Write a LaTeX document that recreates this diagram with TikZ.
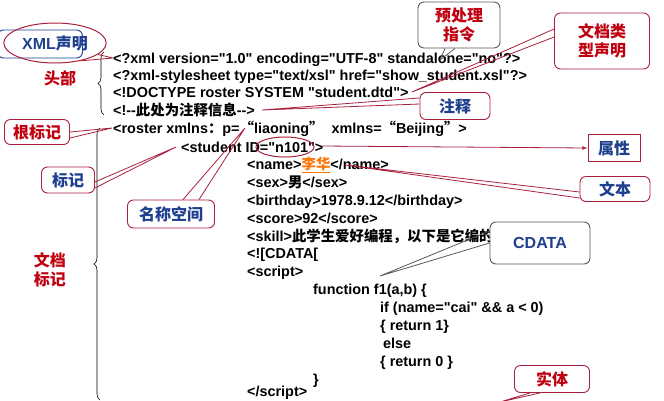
\documentclass[tikz,border=0pt]{standalone}
\usepackage{fontspec}
\setmainfont{Liberation Sans}[Ligatures=TeXOff]
\newfontfamily\cjk{Noto Sans CJK SC}
\newcommand{\zh}[1]{{\cjk #1}}
\usetikzlibrary{decorations.pathreplacing,shapes.geometric}
\definecolor{myred}{HTML}{C00010}
\definecolor{myblue}{HTML}{1F3F8F}
\definecolor{edge}{HTML}{A8203C}
\tikzset{
 code/.style={anchor=base west,inner sep=0pt,font=\fontsize{14.4}{16}\selectfont\bfseries},
 cbox/.style={draw=edge,line width=0.9pt,rounded corners=6pt,fill=white,align=center,inner sep=2pt,font=\fontsize{16}{19}\selectfont\cjk\bfseries},
 gbox/.style={cbox,draw=gray!70!black},
 ptr/.style={draw=edge,line width=0.8pt},
 gptr/.style={draw=gray!70!black,line width=0.8pt},
 brc/.style={draw=black,line width=0.6pt,decorate,decoration={brace,amplitude=6pt}},
 lbl/.style={text=myred,font=\fontsize{16}{19}\selectfont\cjk\bfseries,align=center}
}
\begin{document}
\begin{tikzpicture}[x=1pt,y=-1pt]
\useasboundingbox (0,0) rectangle (664,400);
% code
\node[code] (l1) at (113,63) {<?xml version="1.0" encoding="UTF-8" standalone="no"?>};
\node[code] (l2) at (113,80) {<?xml-stylesheet type="text/xsl" href="show\_student.xsl"?>};
\node[code] (l3) at (113,97) {<!DOCTYPE roster SYSTEM "student.dtd">};
\node[code] (l4) at (113,115) {<!--\zh{此处为注释信息}-->};
\node[code] (l5) at (113,133) {<roster xmlns\zh{：}p=\zh{“}liaoning\zh{”}\ \ xmlns=\zh{“}Beijing\zh{”}>};
\node[code] (l6) at (181,152) {<student ID="n101">};
\node[code] (l7) at (247,169) {<name>\textcolor{orange!90!red}{\underline{\zh{李华}}}</name>};
\node[code] (l8) at (247,187) {<sex>\zh{男}</sex>};
\node[code] (l9) at (247,205) {<birthday>1978.9.12</birthday>};
\node[code] (l10) at (247,223) {<score>92</score>};
\node[code] (l11) at (247,241) {<skill>\zh{此学生爱好编程，以下是它编的}};
\node[code] (l12) at (247,258) {<![CDATA[};
\node[code] (l13) at (247,276) {<script>};
\node[code] (l14) at (313,294) {function f1(a,b) \{};
\node[code] (l15) at (380,312) {if (name="cai" \&\& a < 0)};
\node[code] (l16) at (380,330) {\{ return 1\}};
\node[code] (l17) at (383,348) {else};
\node[code] (l18) at (380,366) {\{ return 0 \}};
\node[code] (l19) at (313,384) {\}};
\node[code] (l20) at (247,396) {</script>};
% braces
\draw[brc] (104,115) -- (104,52);
\node[lbl] (tb) at (60,78) {头部};
\draw[brc] (100,400) -- (100,128);
\node[lbl] (wd) at (50,270) {文档\\标记};
% tip coordinates
\coordinate (t1) at (113,58);
\coordinate (t2) at (440,60);
\coordinate (t3) at (412,92);
\coordinate (t4) at (262,110);
\coordinate (t5) at (112,128);
\coordinate (t6) at (176,147);
\coordinate (t7) at (245,128);
\coordinate (t8) at (380,276);
\coordinate (t9) at (322,146);
\coordinate (t10) at (345,165);
% XML declaration
\node[draw=myblue,line width=0.9pt,rounded corners=6pt,minimum width=85pt,minimum height=28pt] (xr) at (40,44) {};
\node[ellipse,draw=edge,line width=1pt,minimum width=100pt,minimum height=40pt,text=myblue,font=\fontsize{16}{19}\selectfont\bfseries] (xml) at (55,43) {XML\zh{声明}};
\draw[ptr] (t1) -- (xml.-15) (t1) -- (xml.-35);
% 预处理指令
\node[gbox,text=myred,minimum width=82pt,minimum height=46pt] (pre) at (459,25) {预处理\\指令};
\draw[gptr] (t2) -- ([xshift=-14pt]pre.south) (t2) -- ([xshift=-4pt]pre.south);
% 文档类型声明
\node[cbox,text=myred,minimum width=95pt,minimum height=56pt] (dtd) at (602,41) {文档类\\型声明};
\draw[ptr] (t3) -- ([yshift=4pt]dtd.west) (t3) -- ([yshift=12pt]dtd.west);
% 注释
\node[cbox,text=myblue,minimum width=70pt,minimum height=27pt] (zs) at (455,106) {注释};
\draw[ptr] (t4) -- ([yshift=2pt]zs.west) (t4) -- ([yshift=8pt]zs.west);
% 根标记
\node[cbox,text=myred,minimum width=65pt,minimum height=25pt] (gen) at (37,132) {根标记};
\draw[ptr] (t5) -- ([yshift=-6pt]gen.east) (t5) -- ([yshift=0pt]gen.east);
% 属性
\draw[edge,line width=1pt] (285,147) ellipse (29pt and 10pt);
\node[draw=edge,line width=1pt,fill=white,minimum width=52pt,minimum height=27pt,text=myblue,font=\fontsize{16}{19}\selectfont\cjk\bfseries] (sx) at (614,148) {属性};
\draw[ptr,-latex] (t9) -- (sx.west);
% 文本
\node[cbox,text=myblue,minimum width=70pt,minimum height=25pt] (wb) at (615,189) {文本};
\draw[ptr] (t10) -- ([yshift=-9pt]wb.west) (t10) -- ([yshift=-3pt]wb.west);
% 标记
\node[cbox,text=myblue,minimum width=53pt,minimum height=26pt] (bj) at (68,180) {标记};
\draw[ptr] (t6) -- ([yshift=-8pt]bj.east) (t6) -- ([yshift=-2pt]bj.east);
% 名称空间
\node[cbox,text=myblue,minimum width=87pt,minimum height=28pt] (mc) at (171,214) {名称空间};
\draw[ptr] (t7) -- ([xshift=12pt]mc.north) (t7) -- ([xshift=28pt]mc.north);
% CDATA
\node[gbox,text=myblue,font=\fontsize{16}{19}\selectfont\bfseries,minimum width=100pt,minimum height=42pt] (cd) at (540,243) {CDATA};
\draw[gptr] (t8) -- ([yshift=0pt]cd.west) (t8) -- ([yshift=12pt]cd.west);
% 实体
\node[cbox,text=myred,minimum width=75pt,minimum height=27pt] (st) at (552,379) {实体};
\coordinate (t11) at (500,402);
\draw[ptr] (t11) -- ([xshift=-22pt]st.south) (t11) -- ([xshift=-12pt]st.south);
\end{tikzpicture}
\end{document}
